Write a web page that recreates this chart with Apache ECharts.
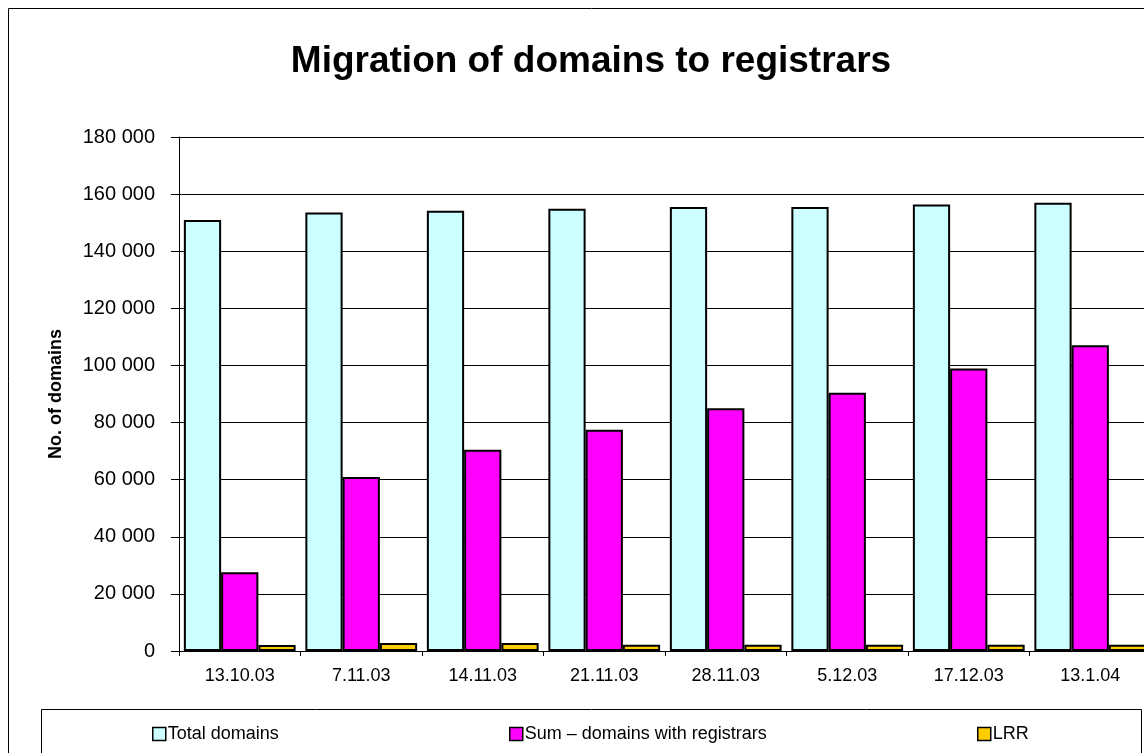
<!DOCTYPE html>
<html lang="en">
<head>
    <meta charset="UTF-8">
    <title>Migration of domains to registrars</title>
    <style>
        html, body { margin: 0; padding: 0; overflow: hidden; background: #fff; }
    </style>
</head>
<body>
<div id="container" style="width: 1182px; height: 753px"></div>
<script src="https://cdn.jsdelivr.net/npm/echarts@6/dist/echarts.min.js"></script>
<script type="text/javascript">
    // data
    var dates = ['13.10.03', '7.11.03', '14.11.03', '21.11.03', '28.11.03', '5.12.03', '17.12.03', '13.1.04'];
    var totalDomains = [150900, 153600, 154200, 154900, 155500, 155500, 156400, 157000];
    var withRegistrars = [27600, 60900, 70500, 77500, 85000, 90400, 98900, 107100];
    var lrr = [2100, 2800, 2800, 2200, 2200, 2200, 2200, 2200];
    var yTicks = [0, 20000, 40000, 60000, 80000, 100000, 120000, 140000, 160000, 180000];

    var font = "'Liberation Sans', Arial, sans-serif";

    function spaced(v) {
        return String(v).replace(/\B(?=(\d{3})+(?!\d))/g, ' ');
    }

    var barStyle = function (c) {
        return {color: c, borderColor: '#000', borderWidth: 2};
    };

    var legendBase = function (name, left) {
        return {
            data: [name],
            left: left,
            top: 725,
            padding: 0,
            icon: 'rect',
            itemWidth: 13,
            itemHeight: 13,
            itemStyle: {borderColor: '#000', borderWidth: 1.5},
            textStyle: {fontFamily: font, fontSize: 18, color: '#000', padding: [0, 0, 0, -3]},
            selectedMode: false
        };
    };

    var chart = echarts.init(document.getElementById('container'), null, {renderer: 'canvas'});
    chart.setOption({
        backgroundColor: '#fff',
        animation: false,
        title: {
            text: 'Migration of domains to registrars',
            left: 'center',
            top: 43,
            padding: 0,
            textStyle: {fontFamily: font, fontSize: 37, fontWeight: 'bold', color: '#000'}
        },
        graphic: [
            {type: 'rect', shape: {x: 8.5, y: 8.5, width: 1166, height: 800},
                style: {fill: 'none', stroke: '#000', lineWidth: 1}, z: -1},
            {type: 'rect', shape: {x: 41.5, y: 709.5, width: 1100, height: 80},
                style: {fill: 'none', stroke: '#000', lineWidth: 1}, z: -1}
        ],
        legend: [
            legendBase('Total domains', 152),
            legendBase('Sum \u2013 domains with registrars', 509),
            legendBase('LRR', 977)
        ],
        grid: {left: 179, right: 31, top: 137, bottom: 102},
        xAxis: {
            type: 'category',
            data: dates,
            axisLine: {lineStyle: {color: '#000', width: 1}},
            axisTick: {show: true, length: 5, alignWithLabel: false, lineStyle: {color: '#000'}},
            axisLabel: {fontFamily: font, fontSize: 18, color: '#000', margin: 16}
        },
        yAxis: {
            type: 'value',
            min: yTicks[0],
            max: yTicks[yTicks.length - 1],
            interval: yTicks[1] - yTicks[0],
            name: 'No. of domains',
            nameLocation: 'middle',
            nameGap: 114,
            nameTextStyle: {fontFamily: font, fontSize: 18, fontWeight: 'bold', color: '#000'},
            axisLine: {show: true, lineStyle: {color: '#000', width: 1}},
            axisTick: {show: true, length: 8, lineStyle: {color: '#000'}},
            axisLabel: {fontFamily: font, fontSize: 20, color: '#000', margin: 24, formatter: spaced},
            splitLine: {show: true, lineStyle: {color: '#000', width: 1}}
        },
        series: [
            {name: 'Total domains', type: 'bar', data: totalDomains, barGap: '0%', barCategoryGap: '8%',
                itemStyle: barStyle('#CCFFFF')},
            {name: 'Sum \u2013 domains with registrars', type: 'bar', data: withRegistrars,
                itemStyle: barStyle('#FF00FF')},
            {name: 'LRR', type: 'bar', data: lrr, itemStyle: barStyle('#FFCC00')}
        ]
    });
</script>
</body>
</html>
